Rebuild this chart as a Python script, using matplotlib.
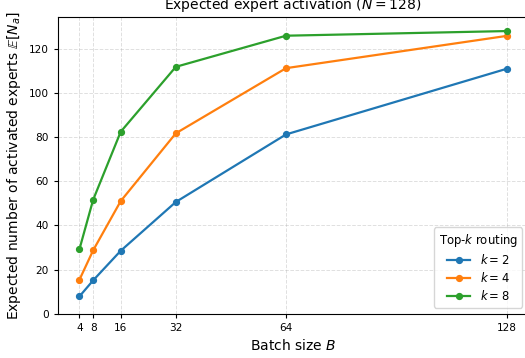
import matplotlib
matplotlib.use("Agg")
import matplotlib.pyplot as plt

# Expected number of distinct experts hit per batch, N = 128 experts
batch_sizes = [4, 8, 16, 32, 64, 128]
experts_k2 = [7.8, 15.1, 28.5, 50.6, 81.2, 110.9]
experts_k4 = [15.3, 28.7, 51.0, 81.7, 111.2, 125.8]
experts_k8 = [29.1, 51.6, 82.4, 111.8, 125.9, 128.0]
series_labels = ["$k = 2$", "$k = 4$", "$k = 8$"]

fig = plt.figure(figsize=(5.25, 3.58), dpi=100)
# axes runs slightly past the right edge of the canvas
ax = fig.add_axes([0.1105, 0.1237, 0.895, 0.829])

for values, label in zip([experts_k2, experts_k4, experts_k8], series_labels):
    ax.plot(batch_sizes, values, marker="o", linewidth=1.6, markersize=4.2, label=label)

ax.set_xticks(batch_sizes)
ax.set_ylim(0, 134.4)
ax.tick_params(labelsize=7.6, length=3)
ax.set_xlabel("Batch size $B$", fontsize=10)
ax.set_ylabel(r"Expected number of activated experts $\mathbb{E}[N_a]$", fontsize=10)
ax.set_title("Expected expert activation ($N = 128$)", fontsize=10)
ax.grid(True, linestyle="--", alpha=0.4, linewidth=0.7)
ax.legend(title="Top-$k$ routing", loc="lower right", fontsize=8.4, title_fontsize=8.4,
          bbox_to_anchor=(0.988, 0.02), borderaxespad=0, labelspacing=0.35)

fig.savefig("out.png", dpi=100)
